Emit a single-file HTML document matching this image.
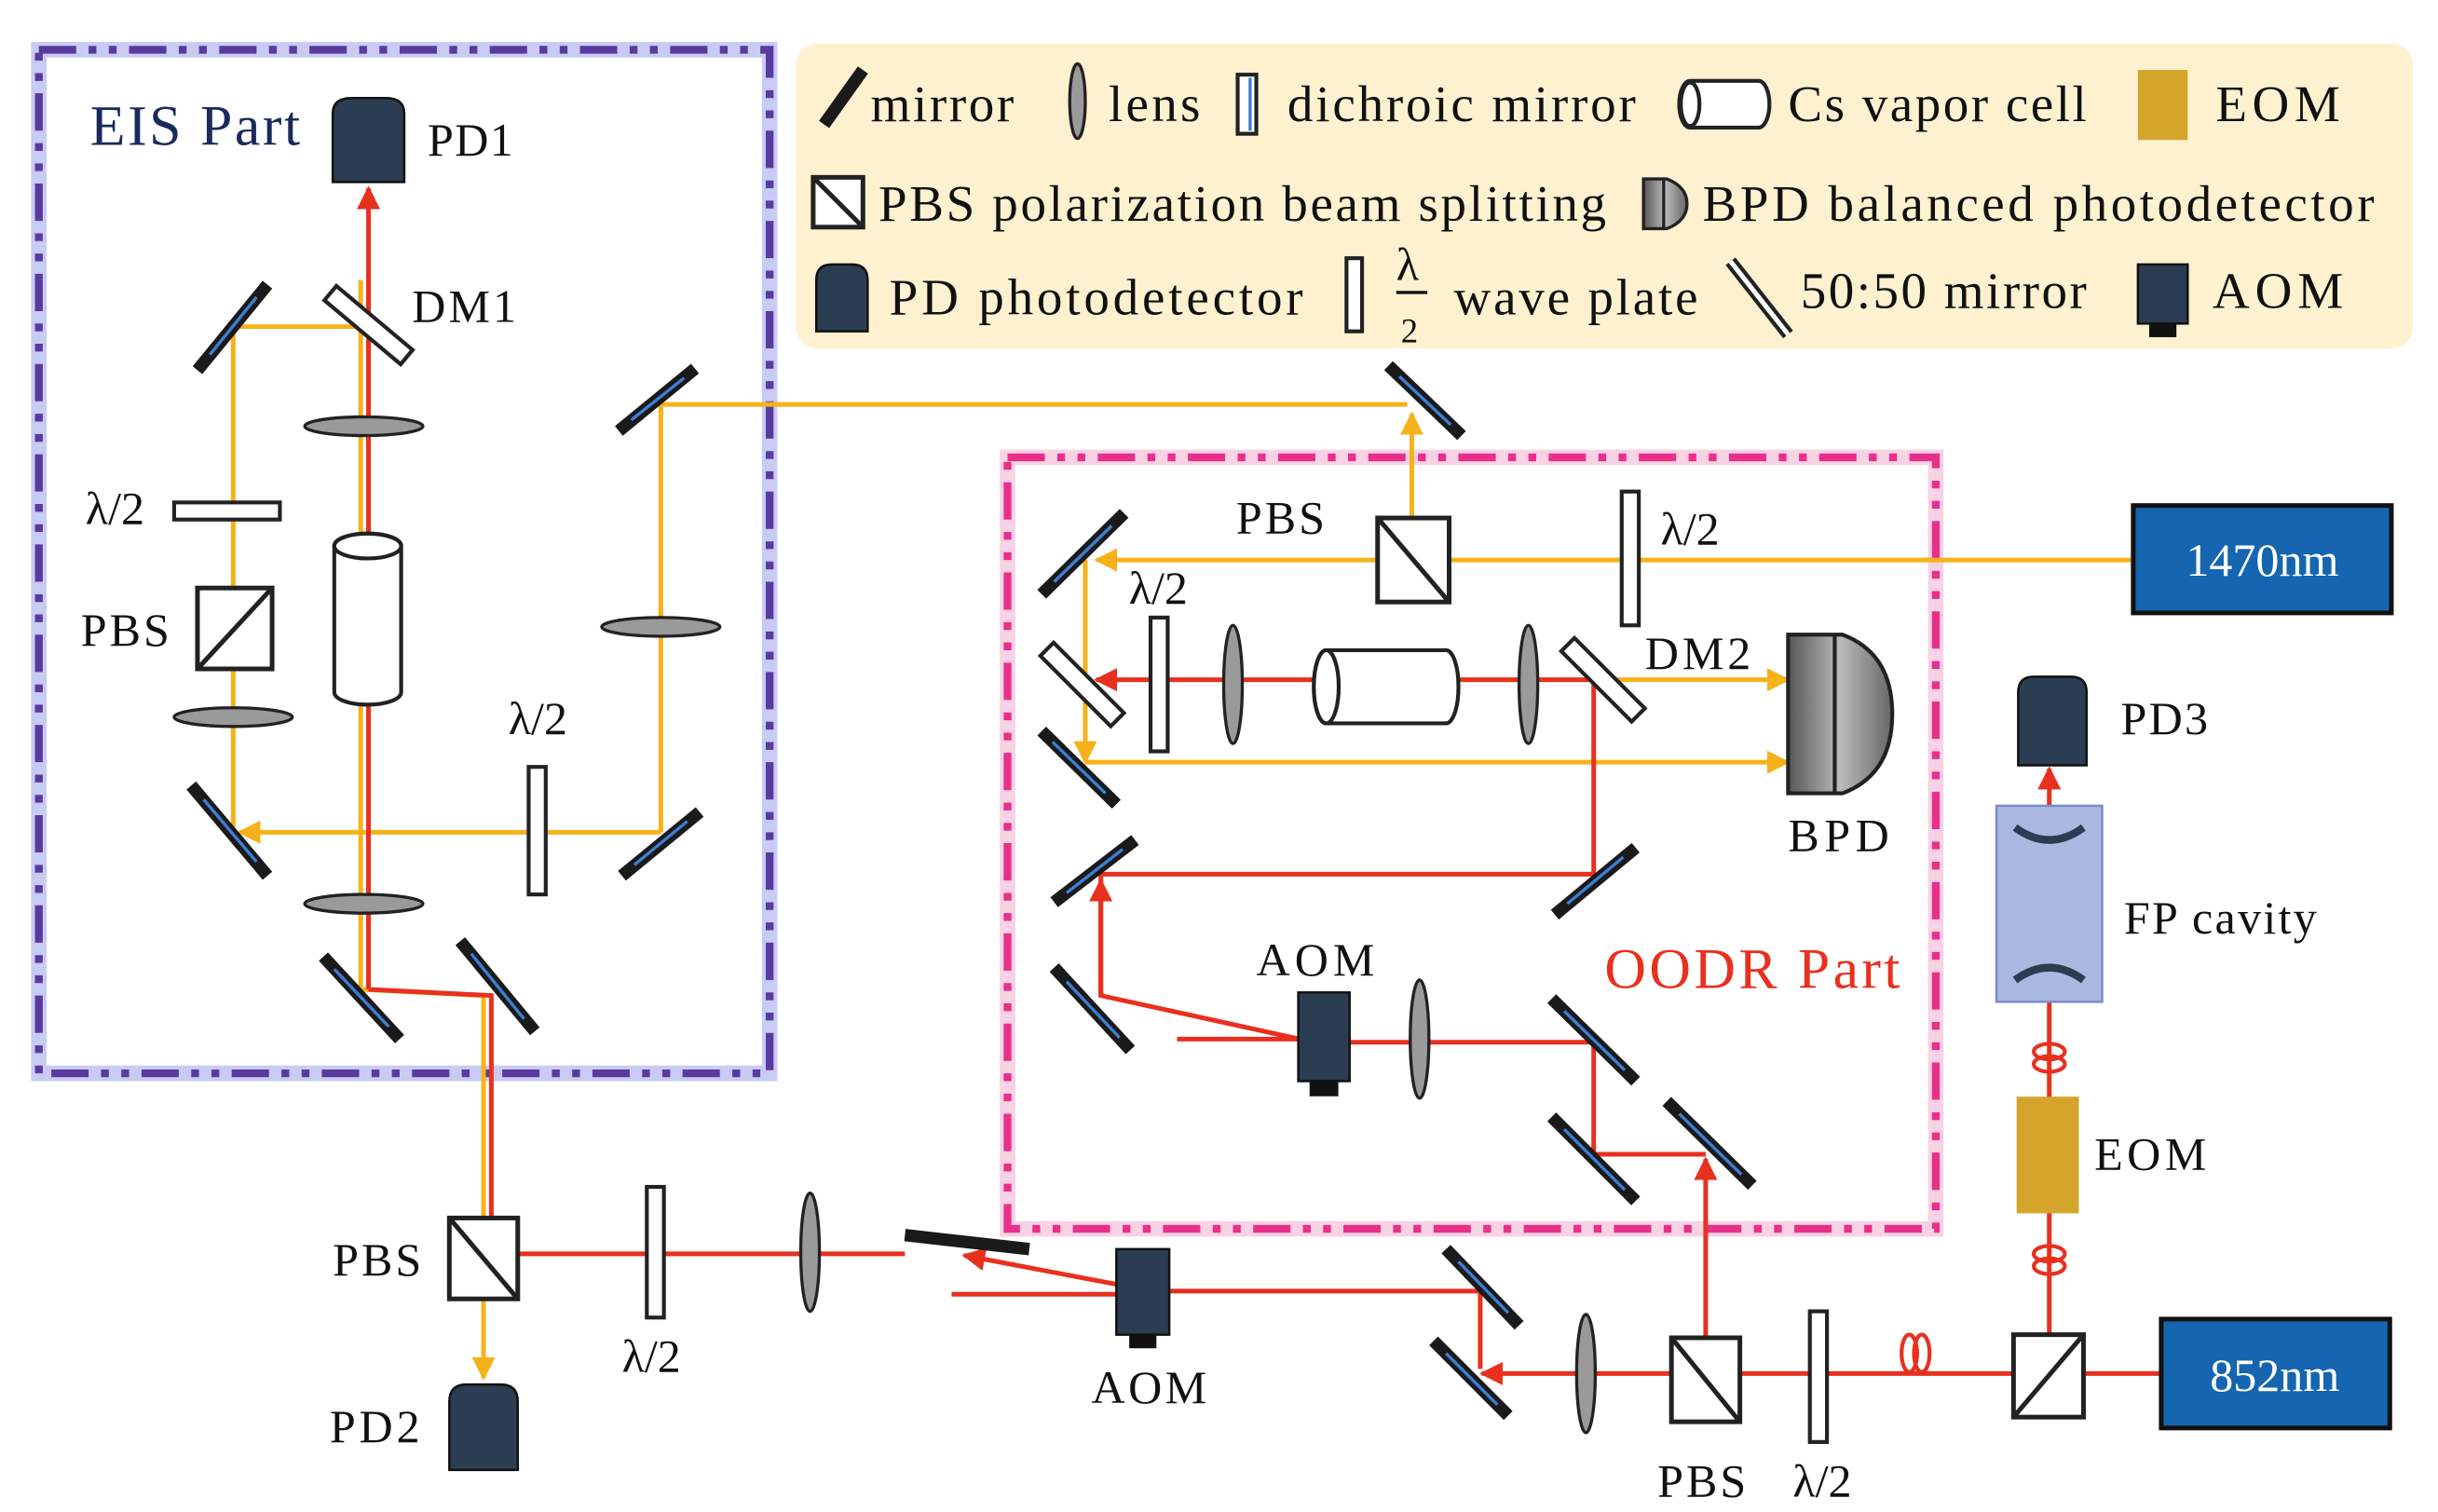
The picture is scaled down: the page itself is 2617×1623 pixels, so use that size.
<!DOCTYPE html>
<html><head><meta charset="utf-8"><style>
html,body{margin:0;padding:0;background:#fff;}
svg{display:block;}
text{font-family:"Liberation Serif",serif;fill:#111;}
</style></head><body>
<svg width="2617" height="1623" viewBox="0 0 1568 972" preserveAspectRatio="none" xmlns="http://www.w3.org/2000/svg">
<defs>
<marker id="ar" viewBox="0 0 10 10" refX="9" refY="5" markerWidth="5" markerHeight="5" orient="auto"><path d="M0,0 L10,5 L0,10 z" fill="#e8301f"/></marker>
<marker id="ay" viewBox="0 0 10 10" refX="9" refY="5" markerWidth="5" markerHeight="5" orient="auto"><path d="M0,0 L10,5 L0,10 z" fill="#f6b21a"/></marker>
<linearGradient id="bpd" x1="0" x2="1"><stop offset="0" stop-color="#555"/><stop offset="0.5" stop-color="#bbb"/><stop offset="1" stop-color="#666"/></linearGradient>
</defs>

<rect x="512" y="28" width="1040" height="196" rx="14" fill="#fdf1cf"/>

<rect x="25" y="32" width="470" height="658" fill="none" stroke="#c8cbf3" stroke-width="10"/>
<rect x="25" y="32" width="470" height="658" fill="none" stroke="#5a3a9e" stroke-width="5" stroke-dasharray="24 8 5 8 5 8"/>
<rect x="648" y="294" width="597" height="496" fill="none" stroke="#f9d2e4" stroke-width="10"/>
<rect x="648" y="294" width="597" height="496" fill="none" stroke="#e8308a" stroke-width="5" stroke-dasharray="24 8 5 8 5 8"/>

<g fill="none" stroke-width="3">
<polyline points="237,210 150,210 150,535" stroke="#f6b21a"/>
<line x1="425" y1="535" x2="154" y2="535" stroke="#f6b21a" marker-end="url(#ay)"/>
<polyline points="425,535 425,260 905,260" stroke="#f6b21a"/>
<polyline points="232,180 232,636 311,640 311,886" stroke="#f6b21a" marker-end="url(#ay)"/>
<line x1="237" y1="636" x2="237" y2="121" stroke="#e8301f" marker-end="url(#ar)"/>
<polyline points="237,636 316,640 316,806" stroke="#e8301f"/>
<line x1="316" y1="806" x2="582" y2="806" stroke="#e8301f"/>
<line x1="720" y1="826" x2="620" y2="807" stroke="#e8301f" marker-end="url(#ar)"/>
<line x1="612" y1="832" x2="718" y2="832" stroke="#e8301f"/>
<polyline points="752,830 952,830 952,880" stroke="#e8301f"/>
<line x1="1390" y1="883" x2="953" y2="883" stroke="#e8301f" marker-end="url(#ar)"/>
<line x1="1097" y1="883" x2="1097" y2="745" stroke="#e8301f" marker-end="url(#ar)"/>
<line x1="1318" y1="883" x2="1318" y2="494" stroke="#e8301f" marker-end="url(#ar)"/>
<line x1="1372" y1="360" x2="705" y2="360" stroke="#f6b21a" marker-end="url(#ay)"/>
<line x1="908" y1="336" x2="908" y2="266" stroke="#f6b21a" marker-end="url(#ay)"/>
<polyline points="698,360 698,490" stroke="#f6b21a" marker-end="url(#ay)"/>
<line x1="698" y1="490" x2="1150" y2="490" stroke="#f6b21a" marker-end="url(#ay)"/>
<line x1="1030" y1="437" x2="1150" y2="437" stroke="#f6b21a" marker-end="url(#ay)"/>
<line x1="1025" y1="437" x2="705" y2="437" stroke="#e8301f" marker-end="url(#ar)"/>
<polyline points="1025,437 1025,562 708,562" stroke="#e8301f"/>
<polyline points="708,562 708,640 836,668" stroke="#e8301f"/>
<line x1="708" y1="640" x2="708" y2="566" stroke="#e8301f" marker-end="url(#ar)"/>
<line x1="757" y1="668" x2="836" y2="668" stroke="#e8301f"/>
<polyline points="868,670 1025,670 1025,742 1097,742" stroke="#e8301f"/>
</g>

<g stroke-linecap="butt">
<g stroke="#1a1a1a" stroke-width="8">
<line x1="127" y1="238" x2="172" y2="183"/>
<line x1="123" y1="505" x2="172" y2="563"/>
<line x1="398" y1="277" x2="447" y2="237"/>
<line x1="400" y1="563" x2="450" y2="522"/>
<line x1="208" y1="615" x2="257" y2="668"/>
<line x1="296" y1="605" x2="344" y2="663"/>
<line x1="582" y1="794" x2="662" y2="803"/>
<line x1="930" y1="803" x2="977" y2="852"/>
<line x1="922" y1="862" x2="970" y2="910"/>
<line x1="893" y1="235" x2="940" y2="280"/>
<line x1="670" y1="382" x2="723" y2="330"/>
<line x1="670" y1="470" x2="718" y2="517"/>
<line x1="1000" y1="588" x2="1052" y2="545"/>
<line x1="678" y1="580" x2="730" y2="540"/>
<line x1="678" y1="622" x2="727" y2="675"/>
<line x1="998" y1="642" x2="1052" y2="695"/>
<line x1="998" y1="718" x2="1052" y2="772"/>
<line x1="1072" y1="708" x2="1127" y2="762"/>
<line x1="530" y1="80" x2="555" y2="45"/>
</g>
<g stroke="#3d7fd6" stroke-width="2">
<line x1="135" y1="228" x2="165" y2="191"/>
<line x1="131" y1="514" x2="165" y2="554"/>
<line x1="406" y1="270" x2="440" y2="243"/>
<line x1="408" y1="556" x2="442" y2="528"/>
<line x1="215" y1="623" x2="250" y2="660"/>
<line x1="303" y1="613" x2="337" y2="655"/>
<line x1="938" y1="811" x2="970" y2="844"/>
<line x1="930" y1="870" x2="963" y2="903"/>
<line x1="900" y1="242" x2="933" y2="273"/>
<line x1="678" y1="374" x2="715" y2="338"/>
<line x1="677" y1="477" x2="711" y2="510"/>
<line x1="1008" y1="581" x2="1044" y2="551"/>
<line x1="686" y1="574" x2="722" y2="546"/>
<line x1="686" y1="631" x2="720" y2="667"/>
<line x1="1006" y1="650" x2="1045" y2="688"/>
<line x1="1006" y1="726" x2="1045" y2="765"/>
<line x1="1080" y1="716" x2="1120" y2="755"/>
</g>
</g>

<rect x="205" y="203" width="64" height="12" fill="#fff" stroke="#222" stroke-width="2.5" transform="rotate(40 237 209)"/>
<rect x="664" y="434" width="64" height="12" fill="#fff" stroke="#222" stroke-width="2.5" transform="rotate(45 696 440)"/>
<rect x="999" y="431" width="64" height="12" fill="#fff" stroke="#222" stroke-width="2.5" transform="rotate(45 1031 437)"/>
<rect x="796" y="48" width="12" height="38" fill="#fff" stroke="#222" stroke-width="2.5"/>
<line x1="804" y1="50" x2="804" y2="84" stroke="#3d7fd6" stroke-width="2"/>

<line x1="1113" y1="168" x2="1150" y2="215" stroke="#222" stroke-width="8"/>
<line x1="1113" y1="168" x2="1150" y2="215" stroke="#fff" stroke-width="3"/>

<g fill="#9a9a9a" stroke="#222" stroke-width="2">
<ellipse cx="234" cy="274" rx="38" ry="6"/>
<ellipse cx="150" cy="461" rx="38" ry="6"/>
<ellipse cx="234" cy="581" rx="38" ry="6"/>
<ellipse cx="425" cy="403" rx="38" ry="6"/>
<ellipse cx="521" cy="805" rx="6" ry="38"/>
<ellipse cx="1020" cy="883" rx="6" ry="38"/>
<ellipse cx="793" cy="440" rx="6" ry="38"/>
<ellipse cx="983" cy="440" rx="6" ry="38"/>
<ellipse cx="913" cy="668" rx="6" ry="38"/>
<ellipse cx="693" cy="65" rx="5" ry="24"/>
</g>

<g fill="#fff" stroke="#222" stroke-width="2.5">
<rect x="112" y="323" width="68" height="11"/>
<rect x="340" y="493" width="11" height="82"/>
<rect x="416" y="763" width="11" height="84"/>
<rect x="1164" y="843" width="11" height="84"/>
<rect x="1043" y="316" width="11" height="86"/>
<rect x="740" y="397" width="11" height="86"/>
<rect x="866" y="166" width="10" height="47"/>
</g>

<g fill="#fff" stroke="#222" stroke-width="3">
<rect x="127" y="378" width="48" height="52"/><line x1="127" y1="430" x2="175" y2="378"/>
<rect x="289" y="783" width="44" height="52"/><line x1="289" y1="783" x2="333" y2="835"/>
<rect x="886" y="333" width="46" height="54"/><line x1="886" y1="333" x2="932" y2="387"/>
<rect x="1075" y="860" width="44" height="54"/><line x1="1075" y1="860" x2="1119" y2="914"/>
<rect x="1295" y="858" width="45" height="53"/><line x1="1340" y1="858" x2="1295" y2="911"/>
<rect x="523" y="114" width="32" height="32"/><line x1="523" y1="114" x2="555" y2="146"/>
</g>

<g fill="#fff" stroke="#222" stroke-width="2.5">
<rect x="215" y="343" width="43" height="110" rx="21" ry="8"/>
<ellipse cx="236.5" cy="351" rx="21.5" ry="8"/>
<rect x="845" y="418" width="93" height="47" rx="8" ry="23"/>
<ellipse cx="853" cy="441.5" rx="8" ry="23.5"/>
<rect x="1080" y="52" width="58" height="30" rx="7" ry="15"/>
<ellipse cx="1087" cy="67" rx="6" ry="14"/>
</g>

<g fill="#2b3d52" stroke="#111" stroke-width="1.5">
<path d="M214,117 V73 Q214,63 226,63 H248 Q260,63 260,73 V117 Z"/>
<path d="M289,945 V901 Q289,890 300,890 H322 Q333,890 333,901 V945 Z"/>
<path d="M1298,492 V445 Q1298,435 1308,435 H1332 Q1342,435 1342,445 V492 Z"/>
<path d="M525,213 V180 Q525,170 535,170 H548 Q558,170 558,180 V213 Z"/>
</g>

<g fill="#2b3d52" stroke="#111" stroke-width="1.5">
<rect x="718" y="803" width="34" height="55"/><rect x="727" y="858" width="16" height="8" fill="#111"/>
<rect x="835" y="638" width="33" height="57"/><rect x="843" y="695" width="17" height="9" fill="#111"/>
<rect x="1375" y="170" width="32" height="38"/><rect x="1383" y="208" width="16" height="8" fill="#111"/>
</g>

<path d="M1150,408 H1185 Q1217,420 1217,459 Q1217,498 1185,510 H1150 Z" fill="url(#bpd)" stroke="#222" stroke-width="2.5"/>
<line x1="1180" y1="408" x2="1180" y2="510" stroke="#222" stroke-width="2.5"/>
<path d="M1057,115 H1072 Q1085,120 1085,131 Q1085,142 1072,147 H1057 Z" fill="url(#bpd)" stroke="#222" stroke-width="2"/>
<line x1="1070" y1="115" x2="1070" y2="147" stroke="#222" stroke-width="2"/>

<rect x="1297" y="705" width="40" height="75" fill="#d4a52a"/>
<rect x="1375" y="45" width="32" height="45" fill="#d4a52a"/>

<rect x="1284" y="518" width="68" height="126" fill="#aab8e0" stroke="#7a8cc8" stroke-width="1.5"/>
<path d="M1296,532 Q1318,548 1340,532" fill="none" stroke="#2b3d52" stroke-width="5"/>
<path d="M1296,630 Q1318,614 1340,630" fill="none" stroke="#2b3d52" stroke-width="5"/>

<g fill="none" stroke="#e8301f" stroke-width="2.5">
<ellipse cx="1228" cy="870" rx="5" ry="12"/><ellipse cx="1236" cy="870" rx="5" ry="12"/>
<ellipse cx="1318" cy="676" rx="10" ry="5"/><ellipse cx="1318" cy="684" rx="10" ry="5"/>
<ellipse cx="1318" cy="806" rx="10" ry="5"/><ellipse cx="1318" cy="814" rx="10" ry="5"/>
</g>

<rect x="1372" y="325" width="166" height="69" fill="#1565b0" stroke="#111" stroke-width="3"/>
<text x="1455" y="370" font-size="30" text-anchor="middle" style="fill:#fff">1470nm</text>
<rect x="1390" y="848" width="147" height="70" fill="#1565b0" stroke="#111" stroke-width="3"/>
<text x="1463" y="894" font-size="30" text-anchor="middle" style="fill:#fff">852nm</text>

<g font-size="30">
<text x="58" y="93" font-size="37" textLength="135" style="fill:#1a2a5a">EIS Part</text>
<text x="275" y="100" textLength="55">PD1</text>
<text x="265" y="207" textLength="67">DM1</text>
<text x="55" y="337">λ/2</text>
<text x="52" y="415" textLength="57">PBS</text>
<text x="327" y="472">λ/2</text>
<text x="214" y="820" textLength="57">PBS</text>
<text x="212" y="927" textLength="58">PD2</text>
<text x="400" y="882">λ/2</text>
<text x="702" y="902" textLength="74">AOM</text>
<text x="1066" y="962" textLength="57">PBS</text>
<text x="1153" y="962">λ/2</text>
<text x="1347" y="752" textLength="72">EOM</text>
<text x="1366" y="600" textLength="124">FP cavity</text>
<text x="1364" y="472" textLength="56">PD3</text>
<text x="1150" y="547" textLength="65">BPD</text>
<text x="1058" y="430" textLength="68">DM2</text>
<text x="1068" y="350">λ/2</text>
<text x="795" y="343" textLength="57">PBS</text>
<text x="726" y="388">λ/2</text>
<text x="808" y="627" textLength="76">AOM</text>
<text x="1032" y="635" font-size="37" textLength="190" style="fill:#e8301f">OODR Part</text>
</g>
<g font-size="33">
<text x="560" y="78" textLength="92">mirror</text>
<text x="713" y="78" textLength="59">lens</text>
<text x="828" y="78" textLength="224">dichroic mirror</text>
<text x="1150" y="78" textLength="192">Cs vapor cell</text>
<text x="1425" y="78" textLength="80">EOM</text>
<text x="565" y="142" textLength="468">PBS polarization beam splitting</text>
<text x="1095" y="142" textLength="432">BPD  balanced photodetector</text>
<text x="572" y="202" textLength="266">PD  photodetector</text>
<text x="898" y="180" font-size="30">λ</text>
<line x1="898" y1="188" x2="918" y2="188" stroke="#111" stroke-width="2"/>
<text x="901" y="220" font-size="22">2</text>
<text x="935" y="202" textLength="157">wave plate</text>
<text x="1158" y="198" textLength="184">50:50 mirror</text>
<text x="1423" y="198" textLength="84">AOM</text>
</g>
</svg>
</body></html>
